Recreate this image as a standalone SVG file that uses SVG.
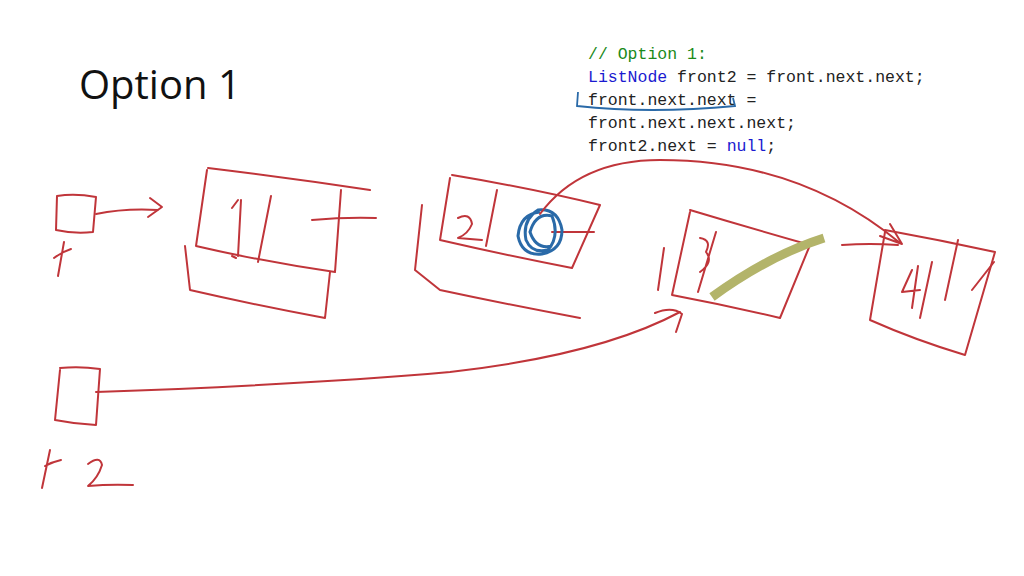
<svg xmlns="http://www.w3.org/2000/svg" width="1024" height="576" viewBox="0 0 1024 576">
<style>
.r{fill:none;stroke:#c0353a;stroke-width:2;stroke-linecap:round;stroke-linejoin:round}
.c{font-family:"Liberation Mono","DejaVu Sans Mono",monospace;font-size:16.5px;fill:#222}
</style>
<rect width="1024" height="576" fill="#fff"/>
<text x="79" y="99" font-family="Open Sans, Liberation Sans, sans-serif" font-size="40" fill="#111">Option 1</text>
<g class="c">
<text x="588" y="59"><tspan fill="#1a8a1a">// Option 1:</tspan></text>
<text x="588" y="82"><tspan fill="#1a1ad0">ListNode</tspan> front2 = front.next.next;</text>
<text x="588" y="105">front.next.next =</text>
<text x="588" y="128">front.next.next.next;</text>
<text x="588" y="151">front2.next = <tspan fill="#1a1ad0">null</tspan>;</text>
</g>
<path d="M578 92 L577 106 Q650 114 735 106 L733 98" fill="none" stroke="#2a6aa8" stroke-width="1.8"/>
<g id="head">
<path class="r" d="M57 196 Q75 193 96 197 L93 232 Q74 234 56 230 Z"/>
<path class="r" d="M96 214 Q125 208 158 210 M150 198 L162 207 L148 217"/>
<path class="r" d="M64 242 L58 276 M54 258 Q62 252 71 249"/>
</g>
<g id="node1">
<path class="r" d="M208 168 Q290 178 370 190 M207 170 L196 246 Q265 262 335 272 L341 190"/>
<path class="r" d="M185 246 L190 290 Q255 305 325 318 L330 272"/>
<path class="r" d="M241 200 L238 256 M271 196 L258 262"/>
<path class="r" d="M232 208 L238 200 M236 258 L232 256"/>
<path class="r" d="M312 220 Q345 217 376 218"/>
</g>
<g id="node2">
<path class="r" d="M452 175 Q530 188 600 205 L572 268 Q505 255 440 240 L450 178"/>
<path class="r" d="M422 205 L415 270 L440 290 Q510 305 580 318"/>
<path class="r" d="M458 218 Q470 212 472 224 Q468 234 458 238 L482 240"/>
<path class="r" d="M497 190 L486 246"/>
<path class="r" d="M552 232 L594 232"/>
<path d="M540 212 Q520 214 518 236 Q522 256 542 254 Q562 250 562 230 Q558 208 538 210 Q522 220 526 240 Q532 254 548 250 Q560 236 552 216 Q536 212 530 232 Q536 250 552 246" fill="none" stroke="#2a6aa8" stroke-width="3"/>
<path class="r" d="M540 214 Q580 160 660 160 Q800 160 900 243 M880 236 L902 244 L890 224"/>
</g>
<g id="node3">
<path class="r" d="M690 210 Q750 228 810 245 L780 318 Q725 305 672 295 L690 212"/>
<path class="r" d="M664 248 L658 290 M700 238 Q712 240 706 252 Q714 262 700 272 M716 232 L698 292"/>
<path d="M712 297 Q770 255 824 238" fill="none" stroke="#b3b46a" stroke-width="9"/>
</g>
<g id="node4">
<path class="r" d="M885 230 Q940 240 995 252 L965 355 Q915 340 870 320 L885 232"/>
<path class="r" d="M842 245 Q870 243 898 245"/>
<path class="r" d="M912 270 L902 292 L920 290 M918 266 L912 308 M932 262 L920 318 M958 240 L945 300 M994 262 L972 290"/>
</g>
<g id="front2">
<path class="r" d="M60 368 Q80 366 100 369 L96 425 Q75 424 55 420 L60 370"/>
<path class="r" d="M50 450 L42 488 M45 466 Q52 462 61 460"/>
<path class="r" d="M88 464 Q100 455 102 465 Q98 478 88 486 Q110 484 133 485"/>
</g>
<g id="connectors">
<path class="r" d="M96 392 Q300 385 450 372 Q600 355 680 312 M655 313 Q672 306 682 314 L676 332"/>
</g>
</svg>
